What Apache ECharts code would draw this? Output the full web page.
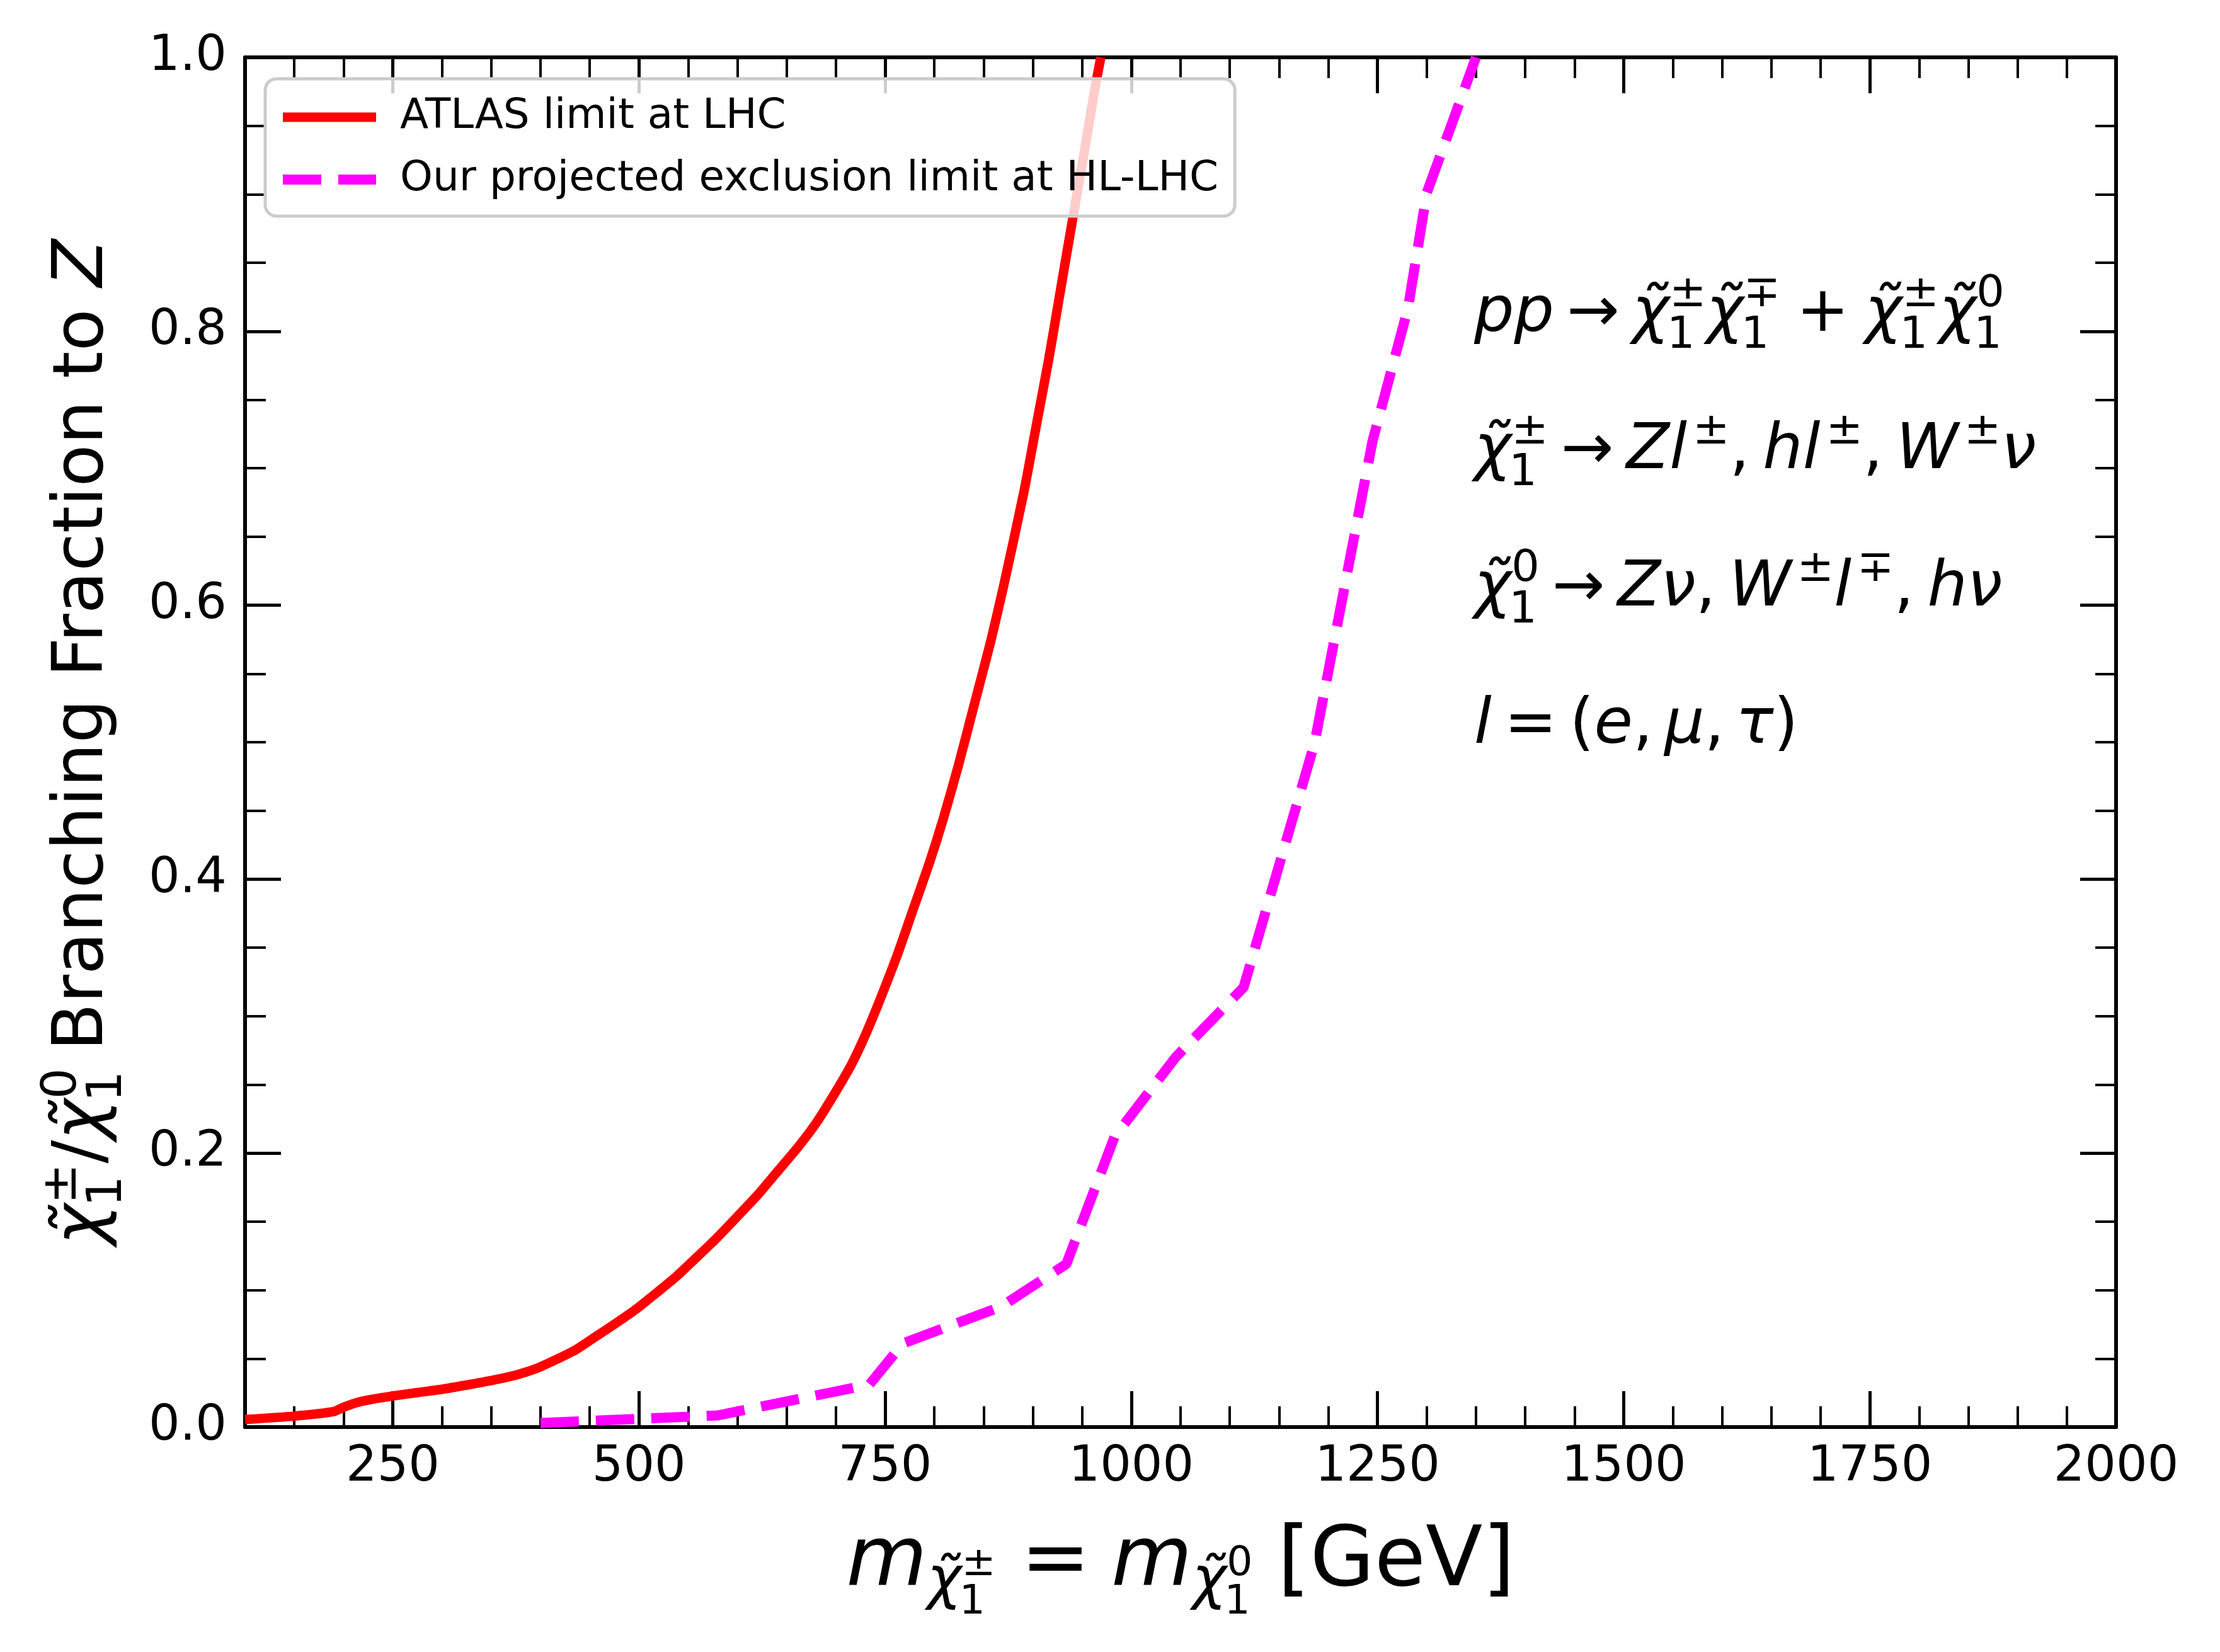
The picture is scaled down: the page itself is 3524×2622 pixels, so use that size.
<!DOCTYPE html>
<html>
<head>
<meta charset="utf-8">
<script src="https://cdn.jsdelivr.net/npm/echarts@6/dist/echarts.min.js"></script>
<style>
  html, body { margin: 0; padding: 0; background: #fff; }
  #main { width: 3524px; height: 2622px; }
</style>
</head>
<body>
<div id="main"></div>
<script>
// ATLAS limit at LHC (solid red)
const atlasMass = [100, 150, 190, 200, 215, 230, 250, 275, 300, 325, 350, 375, 395, 415, 436, 456, 477, 497, 517, 538, 558, 579, 599, 620, 640, 660, 680, 700, 716, 731, 747, 763, 778, 795, 809, 824, 840, 857, 870, 891, 904, 916, 929, 939, 952, 963, 969];
const atlasBR = [0.0055, 0.008, 0.0113, 0.0145, 0.0182, 0.0204, 0.0227, 0.0252, 0.0276, 0.0307, 0.034, 0.038, 0.0425, 0.049, 0.0565, 0.066, 0.076, 0.086, 0.0975, 0.11, 0.1235, 0.138, 0.153, 0.169, 0.186, 0.203, 0.222, 0.245, 0.265, 0.288, 0.316, 0.346, 0.377, 0.412, 0.444, 0.482, 0.526, 0.573, 0.613, 0.683, 0.733, 0.779, 0.834, 0.876, 0.930, 0.977, 1.0];

// projected exclusion limit at HL-LHC (dashed magenta)
const hlMass = [400, 580, 734, 768, 868, 934, 983, 1045, 1114, 1186, 1245, 1281, 1300, 1350];
const hlBR = [0.003, 0.0085, 0.031, 0.061, 0.088, 0.119, 0.212, 0.270, 0.321, 0.499, 0.720, 0.817, 0.901, 1.0];

const xMajorTicks = [250, 500, 750, 1000, 1250, 1500, 1750, 2000];
const seriesNames = ['ATLAS limit at LHC', 'Our projected exclusion limit at HL-LHC'];

const FONT = 'DejaVu Sans';
const CHI = 'χ\u0303';
const MID = 0.24; // canvas 'middle' baseline sits this many em above the alphabetic baseline

// --- tiny mathtext-ish layout with graphic text elements ---
const mctx = document.createElement('canvas').getContext('2d');
function measure(t, size, it) {
  mctx.font = (it ? 'italic ' : '') + size + 'px "' + FONT + '"';
  return mctx.measureText(t).width;
}
// tokens: number = gap in em, or {t, it, s, dy, sup, sub, ic}
function mathRow(tokens, size) {
  const items = [];
  let x = 0;
  tokens.forEach(function (tk) {
    if (typeof tk === 'number') { x += tk * size; return; }
    const s = size * (tk.s || 1);
    const base = (tk.dy || 0) * size;
    const w = measure(tk.t, s, tk.it);
    items.push({ t: tk.t, x: x, b: base, size: s, it: tk.it });
    let adv = w;
    if (tk.sup || tk.sub) {
      const ss = s * 0.7;
      let ws = 0;
      if (tk.sup) {
        const sx = x + w + (tk.ic || 0) * s;
        items.push({ t: tk.sup, x: sx, b: base - 0.38 * s, size: ss });
        ws = sx - x - w + measure(tk.sup, ss);
      }
      if (tk.sub) {
        items.push({ t: tk.sub, x: x + w - 0.04 * s, b: base + 0.28 * s, size: ss });
        ws = Math.max(ws, measure(tk.sub, ss));
      }
      adv = w + ws;
    }
    x += adv;
  });
  return { items: items, width: x };
}
function mathElements(row, x0, y0) {
  return row.items.map(function (it) {
    return {
      type: 'text',
      x: x0 + it.x,
      y: y0 + it.b - MID * it.size,
      style: {
        text: it.t, fontFamily: FONT, fontSize: it.size,
        fontStyle: it.it ? 'italic' : 'normal', fill: '#000',
        align: 'left', verticalAlign: 'middle'
      }
    };
  });
}

const annSize = 100;
const annLines = [
  [{ t: 'pp', it: true }, 0.2, { t: '→' }, 0.2,
   { t: CHI, it: true, sup: '±', sub: '1' }, { t: CHI, it: true, sup: '∓', sub: '1' }, 0.25,
   { t: '+' }, 0.25, { t: CHI, it: true, sup: '±', sub: '1' }, { t: CHI, it: true, sup: '0', sub: '1' }],
  [{ t: CHI, it: true, sup: '±', sub: '1' }, 0.2, { t: '→' }, 0.2,
   { t: 'Z', it: true }, { t: 'l', it: true, sup: '±', ic: 0.09 }, { t: ',' }, 0.21,
   { t: 'h', it: true }, { t: 'l', it: true, sup: '±', ic: 0.09 }, { t: ',' }, 0.21,
   { t: 'W', it: true, sup: '±', ic: 0.09 }, { t: 'ν', it: true }],
  [{ t: CHI, it: true, sup: '0', sub: '1' }, 0.2, { t: '→' }, 0.2,
   { t: 'Z', it: true }, { t: 'ν', it: true }, { t: ',' }, 0.21,
   { t: 'W', it: true, sup: '±', ic: 0.09 }, { t: 'l', it: true, sup: '∓', ic: 0.09 }, { t: ',' }, 0.21,
   { t: 'h', it: true }, { t: 'ν', it: true }],
  [{ t: 'l', it: true }, 0.2, { t: '=' }, 0.2, { t: '(' }, { t: 'e', it: true }, { t: ',' }, 0.18,
   { t: 'μ', it: true }, { t: ',' }, 0.18, { t: 'τ', it: true }, { t: ')' }]
];
const annBaselines = [523, 741, 959, 1177];

const graphics = [];
annLines.forEach(function (tokens, i) {
  mathElements(mathRow(tokens, annSize), 2340, annBaselines[i]).forEach(function (e) { graphics.push(e); });
});

// x axis title
const xRow = mathRow([
  { t: 'm', it: true }, { t: CHI, it: true, s: 0.7, dy: 0.16, sup: '±', sub: '1' }, 0.3,
  { t: '=' }, 0.25,
  { t: 'm', it: true }, { t: CHI, it: true, s: 0.7, dy: 0.16, sup: '0', sub: '1' }, 0.3,
  { t: '[GeV]' }
], 132);
mathElements(xRow, 1874 - xRow.width / 2, 2513).forEach(function (e) { graphics.push(e); });

// y axis title (rotated)
const yRow = mathRow([
  { t: CHI, it: true, sup: '±', sub: '1' }, { t: '/' }, { t: CHI, it: true, sup: '0', sub: '1' }, 0.25,
  { t: 'Branching Fraction to ' }, { t: 'Z', it: true }
], 110);
graphics.push({
  type: 'group', x: 160, y: 1178, rotation: Math.PI / 2,
  children: mathElements(yRow, -yRow.width / 2, 0)
});

const chart = echarts.init(document.getElementById('main'));

const axisLineStyle = { color: '#000', width: 6 };
function minorXAxis(pos) {
  return {
    type: 'value', position: pos, min: 100, max: 2000, interval: 50,
    axisLine: { show: true, onZero: false, lineStyle: axisLineStyle },
    axisTick: { show: true, inside: true, length: 33, lineStyle: { color: '#000', width: 4 } },
    axisLabel: { show: false },
    splitLine: { show: false }
  };
}
function majorXAxis(pos, labels) {
  return {
    type: 'value', position: pos, min: 100, max: 2000,
    axisLine: { show: false, onZero: false },
    axisTick: { show: true, inside: true, length: 57, customValues: xMajorTicks, lineStyle: { color: '#000', width: 5 } },
    axisLabel: {
      show: labels, customValues: xMajorTicks, margin: 26,
      fontFamily: FONT, fontSize: 78, color: '#000',
      formatter: function (v) { return String(v); }
    },
    splitLine: { show: false }
  };
}
function yAxis(pos, labels) {
  return {
    type: 'value', position: pos, min: 0, max: 1, interval: 0.2,
    axisLine: { show: true, onZero: false, lineStyle: axisLineStyle },
    axisTick: { show: true, inside: true, length: 57, lineStyle: { color: '#000', width: 5 } },
    minorTick: { show: true, splitNumber: 4, length: 33, lineStyle: { color: '#000', width: 4 } },
    axisLabel: {
      show: labels, margin: 29, fontFamily: FONT, fontSize: 78, color: '#000',
      formatter: function (v) { return v.toFixed(1); }
    },
    splitLine: { show: false },
    minorSplitLine: { show: false }
  };
}

const option = {
  animation: false,
  backgroundColor: '#fff',
  grid: { left: 389, right: 165, top: 91, bottom: 357, containLabel: false },
  xAxis: [minorXAxis('bottom'), majorXAxis('bottom', true), minorXAxis('top'), majorXAxis('top', false)],
  yAxis: [yAxis('left', true), yAxis('right', false)],
  legend: {
    orient: 'vertical', left: 421, top: 125,
    padding: [26, 26, 23, 20],
    itemWidth: 148, itemHeight: 20, itemGap: 29,
    backgroundColor: 'rgba(255,255,255,0.8)',
    borderColor: '#cccccc', borderWidth: 5, borderRadius: 18,
    textStyle: { fontFamily: FONT, fontSize: 66, color: '#000', lineHeight: 70, padding: [0, 0, 0, 33] },
    data: [
      { name: seriesNames[0], lineStyle: { width: 15 }, itemStyle: { opacity: 0 } },
      { name: seriesNames[1], lineStyle: { width: 16, type: [61, 27] }, itemStyle: { opacity: 0 } }
    ]
  },
  series: [
    {
      name: seriesNames[0], type: 'line', xAxisIndex: 0, yAxisIndex: 0,
      data: atlasMass.map(function (m, i) { return [m, atlasBR[i]]; }),
      symbol: 'none', smooth: 0.2,
      lineStyle: { color: '#ff0000', width: 15, join: 'round' },
      itemStyle: { color: '#ff0000' }
    },
    {
      name: seriesNames[1], type: 'line', xAxisIndex: 0, yAxisIndex: 0,
      data: hlMass.map(function (m, i) { return [m, hlBR[i]]; }),
      symbol: 'none',
      lineStyle: { color: '#ff00ff', width: 16, type: [61, 27] },
      itemStyle: { color: '#ff00ff' }
    }
  ],
  graphic: graphics
};

chart.setOption(option);
</script>
</body>
</html>
